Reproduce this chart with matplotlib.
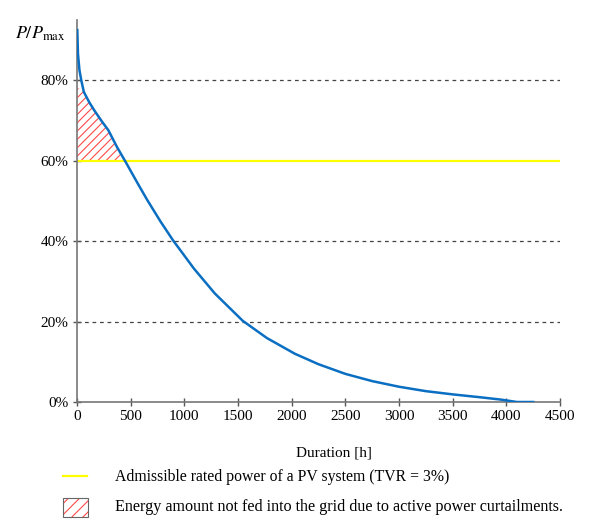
import numpy as np
import matplotlib
matplotlib.use("Agg")
import matplotlib.pyplot as plt
from matplotlib.patches import Rectangle
from matplotlib.lines import Line2D

plt.rcParams["font.family"] = ["Liberation Serif", "DejaVu Serif"]
plt.rcParams["mathtext.fontset"] = "stix"
plt.rcParams["hatch.linewidth"] = 0.8

# duration curve
hours = [3, 9, 23, 40, 64, 113, 162, 226, 292, 373, 447, 567, 651, 778,
         895, 1089, 1284, 1544, 1770, 2030, 2250, 2500, 2750, 3000, 3250,
         3500, 3750, 3950, 4100, 4250]
power_pct = [92.5, 86.6, 82.5, 80.0, 77.1, 74.6, 72.5, 70.0, 67.6, 63.4,
             60.0, 54.3, 50.4, 44.9, 40.2, 33.2, 27.0, 20.2, 15.9, 12.0,
             9.4, 7.0, 5.2, 3.8, 2.7, 1.9, 1.2, 0.6, 0.0, 0.0]
limit_pct = 60
hatch_top = 78
x_ticks = [0, 500, 1000, 1500, 2000, 2500, 3000, 3500, 4000, 4500]
y_ticks = [0, 20, 40, 60, 80]
grid_levels = [20, 40, 80]

fig = plt.figure(figsize=(6.13, 5.2), dpi=100)
ax = fig.add_axes([0.1256, 0.2269, 0.7879, 0.7346])

# hatched curtailment area (between curve and admissible power line)
xs = np.linspace(0, 447, 300)
ys = np.interp(xs, hours, power_pct)
ax.fill_between(xs, limit_pct, np.minimum(ys, hatch_top),
                facecolor="none", edgecolor="#ff4a4a", hatch="////", linewidth=0)

for g in grid_levels:
    ax.axhline(g, color="#444444", linestyle=(0, (3, 3)), linewidth=0.9, zorder=1)
ax.axhline(limit_pct, color="#ffff00", linewidth=1.6, zorder=2)

ax.plot(hours, power_pct, color="#0a6fc2", linewidth=1.8, zorder=3,
        solid_joinstyle="round")

ax.set_xlim(0, 4500)
ax.set_ylim(0, 95)
ax.set_xticks(x_ticks)
ax.set_yticks(y_ticks)
ax.set_yticklabels([f"{t}%" for t in y_ticks])
ax.tick_params(direction="inout", length=6, width=1, color="#555555",
               labelsize=11, pad=3)
for s in ["top", "right"]:
    ax.spines[s].set_visible(False)
for s in ["left", "bottom"]:
    ax.spines[s].set_color("#777777")
    ax.spines[s].set_linewidth(1.2)

fig.text(0.025, 0.925, r"$P/P_{\mathrm{max}}$", fontsize=13)
fig.text(0.545, 0.122, "Duration [h]", fontsize=11, ha="center")

# legend below the plot
fig.add_artist(Line2D([0.103, 0.142], [0.085, 0.085], color="#ffff00",
                      linewidth=1.6, transform=fig.transFigure))
fig.text(0.188, 0.075, "Admissible rated power of a PV system (TVR = 3%)",
         fontsize=11.3)
fig.add_artist(Rectangle((0.103, 0.006), 0.04, 0.036, transform=fig.transFigure,
                         facecolor="none", edgecolor="#ff4a4a", hatch="///",
                         linewidth=0))
fig.add_artist(Rectangle((0.103, 0.006), 0.04, 0.036, transform=fig.transFigure,
                         facecolor="none", edgecolor="#666666", linewidth=0.8))
fig.text(0.188, 0.018,
         "Energy amount not fed into the grid due to active power curtailments.",
         fontsize=11.6)

fig.savefig("out.png", dpi=100)
